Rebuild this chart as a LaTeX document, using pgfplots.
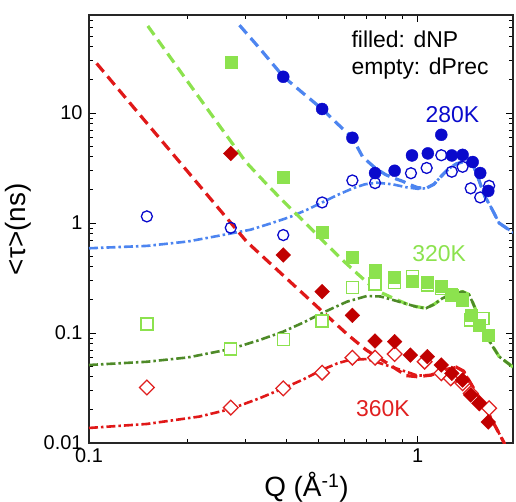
\documentclass[border=0pt]{standalone}
\usepackage{fontspec}
\setmainfont{Liberation Sans}
\usepackage{pgfplots}
\pgfplotsset{compat=1.18}

\definecolor{bluemark}{HTML}{0A0ACC}
\definecolor{blueline}{HTML}{4D85F0}
\definecolor{greenmark}{HTML}{8CE24E}
\definecolor{greenline}{HTML}{4E8A28}
\definecolor{redfill}{HTML}{C00000}
\definecolor{redmark}{HTML}{E02020}
\definecolor{redline}{HTML}{E01818}

\pgfplotsset{
  fitdash/.style={line width=3.2bp, dash pattern=on 11bp off 6bp},
  fitdashdot/.style={line width=2.6bp, dash pattern=on 9bp off 3bp on 2.5bp off 3bp},
}

\begin{document}
\begin{tikzpicture}
\useasboundingbox (-89bp,-59bp) rectangle (427bp,443bp);
\begin{axis}[
  at={(0,0)}, anchor=south west,
  scale only axis, width=424bp, height=428bp,
  xmode=log, ymode=log,
  xmin=0.1, xmax=1.95, ymin=0.01, ymax=78,
  xtick={0.1,1}, xticklabels={0.1,1},
  ytick={0.01,0.1,1,10}, yticklabels={0.01,0.1,1,10},
  minor xtick={0.2,0.3,0.4,0.5,0.6,0.7,0.8,0.9},
  minor ytick={0.02,0.03,0.04,0.05,0.06,0.07,0.08,0.09,
               0.2,0.3,0.4,0.5,0.6,0.7,0.8,0.9,
               2,3,4,5,6,7,8,9,20,30,40,50,60,70},
  tick align=inside,
  major tick length=7bp, minor tick length=4bp,
  every tick/.style={black, line width=1bp},
  axis line style={line width=1.2bp, black!85},
  ticklabel style={font=\fontsize{20}{24}\selectfont},
  xticklabel style={yshift=-2bp},
  yticklabel style={xshift=-3bp},
  xlabel={Q (Å\textsuperscript{-1})},
  ylabel={<τ>(ns)},
  label style={font=\fontsize{28}{32}\selectfont},
  xlabel style={at={(axis description cs:0.513,-0.103)}, anchor=center},
  ylabel style={at={(axis description cs:-0.167,0.499)}, anchor=center},
]

% fit curves, 280K
\addplot[blueline, fitdash] coordinates {
  (0.287,63) (0.33,39) (0.39,21.5) (0.45,15.0) (0.512,10.9) (0.57,8.0)
  (0.633,5.96) (0.68,4.0) (0.745,3.14) (0.80,2.75) (0.85,2.55) (0.90,2.4)
  (0.96,2.2) (1.0,2.1) (1.06,2.07) (1.12,2.25) (1.17,2.6) (1.24,3.1)
  (1.31,3.45) (1.37,3.6) (1.42,3.6) (1.48,3.3) (1.54,2.4) (1.6,1.75)
  (1.66,1.45) (1.77,1.0) (1.95,0.82)
};
\addplot[blueline, fitdashdot] coordinates {
  (0.1,0.59) (0.15,0.62) (0.2,0.68) (0.25,0.77) (0.31,0.87) (0.36,1.0)
  (0.41,1.14) (0.46,1.32) (0.51,1.53) (0.57,1.8) (0.635,2.07) (0.69,2.25)
  (0.75,2.33) (0.84,2.25) (0.92,2.12) (1.0,2.05) (1.06,2.07) (1.12,2.25)
  (1.17,2.6) (1.24,3.1) (1.31,3.45) (1.37,3.6) (1.42,3.6) (1.48,3.3)
  (1.54,2.4) (1.6,1.75) (1.66,1.45) (1.77,1.0) (1.95,0.82)
};

% fit curves, 320K
\addplot[greenmark, fitdash] coordinates {
  (0.151,62) (0.2,19.2) (0.25,7.6) (0.3,3.6) (0.35,2.2) (0.406,1.4)
  (0.447,1.06) (0.515,0.69) (0.596,0.45) (0.66,0.34)
  (0.72,0.27) (0.77,0.235) (0.85,0.205) (0.95,0.178) (1.06,0.168)
  (1.12,0.182) (1.19,0.207) (1.28,0.228) (1.37,0.238) (1.43,0.225)
  (1.47,0.19) (1.55,0.13) (1.62,0.093) (1.77,0.061) (1.97,0.048)
};
\addplot[greenline, fitdashdot] coordinates {
  (0.1,0.0512) (0.15,0.0548) (0.2,0.06) (0.27,0.0716) (0.33,0.0863)
  (0.39,0.103) (0.45,0.125) (0.51,0.151) (0.56,0.172) (0.61,0.193)
  (0.70,0.217) (0.77,0.215) (0.84,0.2) (0.92,0.185) (1.0,0.172)
  (1.06,0.168) (1.12,0.182) (1.19,0.207) (1.28,0.228) (1.37,0.238)
  (1.43,0.225) (1.47,0.19) (1.55,0.13) (1.62,0.093) (1.77,0.061) (1.97,0.048)
};

% fit curves, 360K
\addplot[redline, fitdash] coordinates {
  (0.1055,28.3) (0.15,8.1) (0.2,2.92) (0.25,1.32) (0.302,0.676) (0.35,0.45)
  (0.408,0.295) (0.46,0.212) (0.52,0.151) (0.614,0.096) (0.698,0.070)
  (0.794,0.055) (0.923,0.041) (1.0,0.040) (1.1,0.0415) (1.2,0.046)
  (1.31,0.049) (1.38,0.045) (1.47,0.0325) (1.62,0.020) (1.77,0.0122) (1.84,0.0098)
};
\addplot[redline, fitdashdot] coordinates {
  (0.1,0.0137) (0.15,0.0149) (0.217,0.0174) (0.27,0.0204) (0.33,0.0255)
  (0.39,0.0314) (0.45,0.038) (0.51,0.0461) (0.57,0.053) (0.62,0.0569)
  (0.70,0.058) (0.80,0.0512) (0.92,0.0446) (1.0,0.041) (1.1,0.0415)
  (1.2,0.046) (1.31,0.049) (1.38,0.045) (1.47,0.0325) (1.62,0.020)
  (1.77,0.0122) (1.84,0.0098)
};

% dPrec (empty symbols)
\addplot[only marks, mark=o, mark size=5.5bp,
  mark options={draw=bluemark, fill=white, line width=1.3bp}] coordinates {
  (0.150,1.15) (0.270,0.906) (0.39,0.778) (0.512,1.54) (0.633,2.44)
  (0.742,2.31) (0.954,2.84) (1.065,3.17) (1.18,4.14) (1.27,2.93)
  (1.37,3.25) (1.45,2.07) (1.55,1.71) (1.65,2.18)
};
\addplot[only marks, mark=square*, mark size=6bp,
  mark options={draw=greenmark, fill=white, line width=1.3bp}] coordinates {
  (0.150,0.121) (0.270,0.0716) (0.39,0.0877) (0.512,0.129) (0.633,0.26)
  (0.742,0.279) (0.851,0.29) (0.963,0.325) (1.07,0.273) (1.18,0.254)
  (1.27,0.222) (1.37,0.20) (1.45,0.131) (1.58,0.136)
};
\addplot[only marks, mark=square*, mark size=5.2bp,
  mark options={rotate=45, draw=redmark, fill=white, line width=1.3bp}] coordinates {
  (0.150,0.032) (0.270,0.021) (0.39,0.0314) (0.512,0.0436) (0.633,0.0597)
  (0.742,0.0597) (0.851,0.0644) (1.05,0.0549) (1.18,0.0431) (1.26,0.0387)
  (1.37,0.0349) (1.45,0.0283) (1.54,0.023) (1.65,0.0207)
};

% dNP (filled symbols)
\addplot[only marks, mark=*, mark size=6bp,
  mark options={draw=bluemark, fill=bluemark}] coordinates {
  (0.39,21.4) (0.512,10.9) (0.633,5.96) (0.742,2.85) (0.851,2.99)
  (0.961,4.12) (1.074,4.30) (1.18,6.35) (1.27,4.12) (1.37,4.17)
  (1.47,3.59) (1.55,2.85) (1.64,1.96)
};
\addplot[only marks, mark=square*, mark size=6bp,
  mark options={draw=greenmark, fill=greenmark}] coordinates {
  (0.270,29.3) (0.39,2.62) (0.512,0.83) (0.633,0.494) (0.742,0.374)
  (0.851,0.325) (0.963,0.293) (1.07,0.287) (1.18,0.267) (1.27,0.222)
  (1.37,0.20) (1.45,0.146) (1.54,0.118) (1.64,0.096)
};
\addplot[only marks, mark=square*, mark size=5.2bp,
  mark options={rotate=45, draw=redfill, fill=redfill}] coordinates {
  (0.270,4.30) (0.39,0.512) (0.512,0.238) (0.633,0.145) (0.742,0.0846)
  (0.851,0.0835) (0.95,0.063) (1.07,0.061) (1.18,0.0512) (1.27,0.043)
  (1.37,0.0374) (1.45,0.0273) (1.54,0.023) (1.64,0.0155)
};

% annotations
\node[anchor=base west, font=\fontsize{23}{27}\selectfont]
  at (axis description cs:0.611,0.923) {filled: dNP};
\node[anchor=base west, font=\fontsize{23}{27}\selectfont]
  at (axis description cs:0.611,0.860) {empty: dPrec};
\node[anchor=base, text=bluemark, font=\fontsize{23}{27}\selectfont]
  at (axis description cs:0.857,0.748) {280K};
\node[anchor=base, text=greenmark, font=\fontsize{23}{27}\selectfont]
  at (axis description cs:0.826,0.424) {320K};
\node[anchor=base, text=redmark, font=\fontsize{23}{27}\selectfont]
  at (axis description cs:0.693,0.0615) {360K};
\end{axis}
\end{tikzpicture}
\end{document}
